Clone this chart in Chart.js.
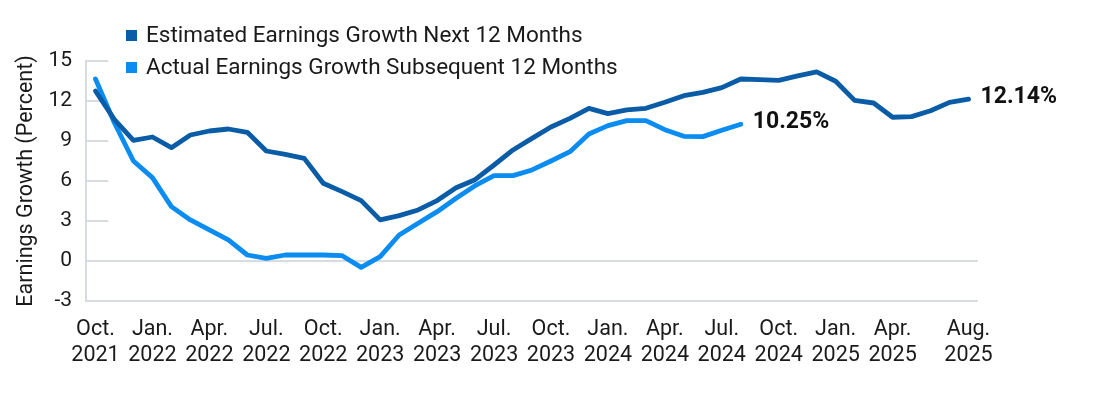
<!DOCTYPE html>
<html lang="en">
<head>
  <meta charset="UTF-8" />
  <title>Earnings Growth</title>
  <script src="https://cdn.jsdelivr.net/npm/chart.js"></script>
  <style>
    html, body { margin: 0; padding: 0; background: #fff; }
    #wrap { position: relative; width: 1100px; height: 399px; }
    #legend {
      position: absolute; left: 126px; top: 18px;
      font: 22.5px Roboto, sans-serif; color: #1a1a1a;
    }
    #legend div { height: 32px; line-height: 32px; white-space: nowrap; position: relative; padding-left: 20px; }
    #legend span { position: absolute; left: 0; top: 12px; width: 11px; height: 11px; }
  </style>
</head>
<body>
  <div id="wrap">
    <canvas id="chart" width="1100" height="399"></canvas>
    <div id="legend"></div>
  </div>

  <script>
    // monthly, Oct. 2021 .. Aug. 2025
    const months = [
      'Oct. 2021', 'Nov. 2021', 'Dec. 2021',
      'Jan. 2022', 'Feb. 2022', 'Mar. 2022', 'Apr. 2022', 'May 2022', 'Jun. 2022',
      'Jul. 2022', 'Aug. 2022', 'Sep. 2022', 'Oct. 2022', 'Nov. 2022', 'Dec. 2022',
      'Jan. 2023', 'Feb. 2023', 'Mar. 2023', 'Apr. 2023', 'May 2023', 'Jun. 2023',
      'Jul. 2023', 'Aug. 2023', 'Sep. 2023', 'Oct. 2023', 'Nov. 2023', 'Dec. 2023',
      'Jan. 2024', 'Feb. 2024', 'Mar. 2024', 'Apr. 2024', 'May 2024', 'Jun. 2024',
      'Jul. 2024', 'Aug. 2024', 'Sep. 2024', 'Oct. 2024', 'Nov. 2024', 'Dec. 2024',
      'Jan. 2025', 'Feb. 2025', 'Mar. 2025', 'Apr. 2025', 'May 2025', 'Jun. 2025',
      'Jul. 2025', 'Aug. 2025'
    ];

    const estimated = [
      12.75, 10.6, 9.05, 9.3, 8.5, 9.45, 9.75, 9.9, 9.65, 8.25, 8.0, 7.7,
      5.83, 5.2, 4.53, 3.08, 3.4, 3.83, 4.53, 5.5, 6.1, 7.2, 8.33, 9.2,
      10.05, 10.7, 11.45, 11.05, 11.33, 11.45, 11.9, 12.4, 12.65, 13.0, 13.65, 13.6,
      13.55, 13.88, 14.18, 13.48, 12.05, 11.85, 10.78, 10.83, 11.27, 11.9, 12.14
    ];

    const actual = [
      13.65, 10.35, 7.5, 6.25, 4.08, 3.08, 2.33, 1.58, 0.45, 0.2, 0.45, 0.45,
      0.45, 0.4, -0.48, 0.33, 1.95, 2.83, 3.7, 4.7, 5.65, 6.4, 6.4, 6.83,
      7.5, 8.2, 9.53, 10.15, 10.53, 10.53, 9.85, 9.35, 9.33, 9.8, 10.25
    ];

    const tickMonths = [
      'Oct. 2021', 'Jan. 2022', 'Apr. 2022', 'Jul. 2022', 'Oct. 2022', 'Jan. 2023',
      'Apr. 2023', 'Jul. 2023', 'Oct. 2023', 'Jan. 2024', 'Apr. 2024', 'Jul. 2024',
      'Oct. 2024', 'Jan. 2025', 'Apr. 2025', 'Aug. 2025'
    ];

    const yTicks = [-3, 0, 3, 6, 9, 12, 15];

    const seriesNames = ['Estimated Earnings Growth Next 12 Months', 'Actual Earnings Growth Subsequent 12 Months'];
    const colors = ['#0a5ca6', '#0a8cf0'];
    const gridColor = '#d8dbdf';

    // legend as html, it sits over the top of the plot
    const legend = document.getElementById('legend');
    seriesNames.forEach((name, i) => {
      legend.insertAdjacentHTML('beforeend', `<div><span style="background:${colors[i]}"></span>${name}</div>`);
    });

    // short stubs for the upper grid values, full lines only at 0 and -3
    const stubs = {
      id: 'stubs',
      beforeDatasetsDraw(chart) {
        const { ctx, chartArea } = chart;
        const y = chart.scales.y;
        ctx.save();
        ctx.strokeStyle = gridColor;
        ctx.lineWidth = 2;
        yTicks.forEach(v => {
          if (v <= 0) return;
          const py = y.getPixelForValue(v);
          ctx.beginPath();
          ctx.moveTo(chartArea.left, py);
          ctx.lineTo(chartArea.left + 22, py);
          ctx.stroke();
        });
        ctx.restore();
      }
    };

    // value label at the end of each line
    const endLabels = {
      id: 'endLabels',
      afterDatasetsDraw(chart) {
        const { ctx } = chart;
        ctx.save();
        ctx.font = 'bold 23px Roboto, sans-serif';
        ctx.fillStyle = '#111';
        ctx.textAlign = 'left';
        ctx.textBaseline = 'middle';
        chart.data.datasets.forEach((ds, i) => {
          const pts = chart.getDatasetMeta(i).data;
          const last = pts[pts.length - 1];
          const val = ds.data[ds.data.length - 1];
          ctx.fillText(val.toFixed(2) + '%', last.x + 12, last.y - 2);
        });
        ctx.restore();
      }
    };

    new Chart(document.getElementById('chart'), {
      type: 'line',
      data: {
        labels: months,
        datasets: [
          { label: seriesNames[0], data: estimated, borderColor: colors[0], backgroundColor: colors[0] },
          { label: seriesNames[1], data: actual, borderColor: colors[1], backgroundColor: colors[1] }
        ]
      },
      options: {
        responsive: false,
        animation: false,
        layout: { padding: { top: 61, right: 122, bottom: 0, left: 0 } },
        elements: {
          line: { borderWidth: 4.8, tension: 0, borderCapStyle: 'round', borderJoinStyle: 'round' },
          point: { radius: 0 }
        },
        plugins: {
          legend: { display: false },
          tooltip: { enabled: false }
        },
        scales: {
          x: {
            offset: true,
            grid: { display: false },
            border: { display: false },
            afterFit(scale) { scale.height = 98; },
            ticks: {
              autoSkip: false,
              maxRotation: 0,
              padding: 8,
              color: '#1a1a1a',
              font: { family: 'Roboto, sans-serif', size: 21.5, lineHeight: 1.21 },
              callback(val, idx) {
                const m = months[idx];
                return tickMonths.includes(m) ? m.split(' ') : '';
              }
            }
          },
          y: {
            min: -3,
            max: 15,
            afterFit(scale) { scale.width = 86; },
            afterBuildTicks(scale) { scale.ticks = yTicks.map(v => ({ value: v })); },
            grid: {
              drawTicks: false,
              lineWidth: 2,
              color: ctx => (ctx.tick && ctx.tick.value <= 0) ? gridColor : 'rgba(0,0,0,0)'
            },
            border: { display: true, color: gridColor, width: 2 },
            ticks: {
              padding: 14,
              color: '#1a1a1a',
              font: { family: 'Roboto, sans-serif', size: 21 }
            },
            title: {
              display: true,
              text: 'Earnings Growth (Percent)',
              color: '#1a1a1a',
              font: { family: 'Roboto, sans-serif', size: 21.5 },
              padding: { top: 14, bottom: 0 }
            }
          }
        }
      },
      plugins: [stubs, endLabels]
    });
  </script>
</body>
</html>
